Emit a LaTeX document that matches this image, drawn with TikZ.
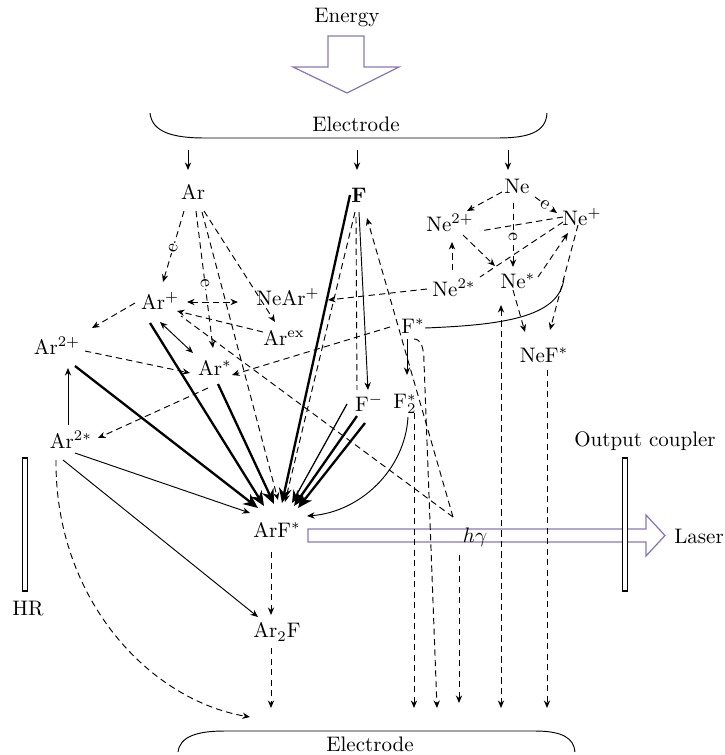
\documentclass[tikz,border=0pt]{standalone}
\usetikzlibrary{arrows.meta}
\definecolor{beam}{RGB}{136,120,186}
\begin{document}
\begin{tikzpicture}[x=0.476pt,y=-0.476pt,line width=0.45pt,
  lbl/.style={inner sep=0pt},
  tip/.style={-{Stealth[length=3.6pt,width=3pt]}},
  tips/.style={{Stealth[length=3.6pt,width=3pt]}-{Stealth[length=3.6pt,width=3pt]}},
  dsh/.style={dash pattern=on 3pt off 2pt},
  thk/.style={line width=1.1pt,-{Stealth[length=7pt,width=6pt]}},
  midtip/.style={line width=0.6pt,-{Stealth[length=6pt,width=5pt]}},
  elab/.style={sloped,fill=white,inner sep=0.4pt,font=\small},
  mirror/.style={draw=black,line width=0.5pt,fill=white},
  openarrow/.style={draw=beam,line width=0.6pt,fill=white}
]
\useasboundingbox (0,0) rectangle (725,755);

% energy arrow and electrodes
\draw[openarrow] (328,36) -- (364,36) -- (364,67) -- (399,67) -- (347,93) -- (293,67) -- (328,67) -- cycle;
\node[lbl] (energy) at (347,18) {Energy};
\draw (150,113) .. controls (152,133) and (175,138) .. (205,138) -- (497,138) .. controls (527,138) and (546,133) .. (547,113);
\node[lbl] (etop) at (356,124) {Electrode};
\draw (178,752) .. controls (180,736) and (198,731) .. (225,731) -- (535,731) .. controls (562,731) and (574,738) .. (575,752);
\node[lbl] (ebot) at (370,744) {Electrode};

% laser beam
\draw[openarrow] (308,529) -- (646,529) -- (646,515) -- (665,535.5) -- (646,556) -- (646,542) -- (308,542) -- cycle;

% nodes
\node[lbl] (Ar) at (193,192) {Ar};
\node[lbl] (F) at (359,195) {\textbf{F}};
\node[lbl] (Ne) at (517,186) {Ne};
\node[lbl] (Ne2p) at (450,223) {Ne$^{2+}$};
\node[lbl] (Nep) at (582,217) {Ne$^{+}$};
\node[lbl] (Nes) at (518,281) {Ne$^{*}$};
\node[lbl] (Ne2s) at (454,288) {Ne$^{2*}$};
\node[lbl] (NeFs) at (544,355) {NeF$^{*}$};
\node[lbl] (NeArp) at (288,297) {NeAr$^{+}$};
\node[lbl] (Arp) at (160,301) {Ar$^{+}$};
\node[lbl] (Arex) at (284,338) {Ar$^{\mathrm{ex}}$};
\node[lbl] (Ar2p) at (57,346) {Ar$^{2+}$};
\node[lbl] (Ars) at (215,368) {Ar$^{*}$};
\node[lbl] (Fs) at (413,326) {F$^{*}$};
\node[lbl] (Fm) at (369,403) {F$^{-}$};
\node[lbl] (F2s) at (405,404) {F$_2^{*}$};
\node[lbl] (Ar2s) at (71,440) {Ar$^{2*}$};
\node[lbl] (ArFs) at (277,530) {ArF$^{*}$};
\node[lbl] (Ar2F) at (277,632) {Ar$_2$F};
\node[lbl] (HR) at (28,609) {HR};
\node[lbl] (OC) at (645,441) {Output coupler};
\node[lbl] (Laser) at (699,536) {Laser};
\node[lbl] (hg) at (475,537) {$h\gamma$};

\coordinate (b0) at (271,708);
\coordinate (b1) at (414,708);
\coordinate (b2) at (437,708);
\coordinate (b3) at (459,703);
\coordinate (b4) at (501,708);
\coordinate (b5) at (547,708);
\coordinate (bc) at (250,717);
\coordinate (hgp) at (453,517);
\coordinate (t4) at (501,305);

% electrode feeds
\draw[tip] ([shift={(-5,-42)}]Ar.center) -- ([shift={(-5,-22)}]Ar.center);
\draw[tip] ([shift={(-2,-45)}]F.center) -- ([shift={(-2,-25)}]F.center);
\draw[tip] ([shift={(-9,-36)}]Ne.center) -- ([shift={(-9,-16)}]Ne.center);

% Ar cluster
\draw[dsh,tip] ([shift={(-9,19)}]Ar.center) -- node[elab,pos=0.52]{e} ([shift={(3,-19)}]Arp.center);
\draw[dsh,tip] ([shift={(3,19)}]Ar.center) -- node[elab,pos=0.53]{e} ([shift={(-2,-20)}]Ars.center);
\draw[dsh,tip] ([shift={(9,20)}]Ar.center) -- ([shift={(1,-30)}]ArFs.center);
\draw[dsh,tip] ([shift={(11,19)}]Ar.center) -- ([shift={(-9,-16)}]Arex.center);
\draw[dsh,tip] ([shift={(-25,2)}]Arp.center) -- ([shift={(35,-18)}]Ar2p.center);
\draw[dsh,tips] ([shift={(27,1)}]Arp.center) -- ([shift={(-50,5)}]NeArp.center);
\draw[tips] ([shift={(0,21)}]Arp.center) -- ([shift={(-22,-15)}]Ars.center);
\draw[dsh,tip] ([shift={(-21,-6)}]Arex.center) -- ([shift={(17,10)}]Arp.center);
\draw[dsh] (hgp) -- ([shift={(21,15)}]Arp.center);
\draw[dsh,tip] (hgp) -- ([shift={(8,23)}]F.center);
\draw[dsh,tip] ([shift={(28,5)}]Ar2p.center) -- ([shift={(-25,5)}]Ars.center);
\draw[tip] ([shift={(-3,-15)}]Ar2s.center) -- ([shift={(11,22)}]Ar2p.center);
\draw[dsh,tip] ([shift={(-7,20)}]Ars.center) -- ([shift={(27,-2)}]Ar2s.center);
\draw[dsh,tip] ([shift={(-23,1)}]Fs.center) -- ([shift={(17,7)}]Ars.center);

% into ArF*
\draw[thk] ([shift={(18,20)}]Ar2p.center) -- ([shift={(-19,-22)}]ArFs.center);
\draw[thk] ([shift={(-10,22)}]Arp.center) -- ([shift={(-13,-24)}]ArFs.center);
\draw[thk] ([shift={(3,16)}]Ars.center) -- ([shift={(-3,-26)}]ArFs.center);
\draw[thk] ([shift={(-9,0)}]F.center) -- ([shift={(5,-27)}]ArFs.center);
\draw[thk] ([shift={(-12,13)}]Fm.center) -- ([shift={(17,-24)}]ArFs.center);
\draw[thk] ([shift={(-4,20)}]Fm.center) -- ([shift={(21,-22)}]ArFs.center);
\draw[midtip] ([shift={(-22,1)}]Fm.center) -- ([shift={(15,-27)}]ArFs.center);
\draw[tip] ([shift={(4,13)}]Ar2s.center) -- ([shift={(-27,-17)}]ArFs.center);
\draw[dsh,tip] ([shift={(-4,17)}]F.center) -- ([shift={(8,-28)}]ArFs.center);

% F cluster
\draw[tip] ([shift={(0,17)}]F.center) -- ([shift={(-1,-13)}]Fm.center);
\draw[dsh] ([shift={(-3,22)}]F.center) -- ([shift={(-12,-13)}]Fm.center);
\draw[tip] ([shift={(-6,13)}]Fs.center) -- ([shift={(2,-29)}]F2s.center);
\draw[dsh,tip] ([shift={(1,13)}]Fs.center) .. controls (421,339) and (424,348) .. (424,362) -- (b2);
\draw ([shift={(12,2)}]Fs.center) .. controls (500,325) and (560,318) .. ([shift={(-18,61)}]Nep.center);
\draw[tip] ([shift={(3,13)}]F2s.center) .. controls (405,470) and (360,512) .. ([shift={(30,-14)}]ArFs.center);
\draw[dsh,tip] ([shift={(9,9)}]F2s.center) -- (b1);
\draw[dsh,tip] ([shift={(-16,18)}]hg.center) -- (b3);
\draw[dsh,tips] (t4) -- (b4);
\draw[dsh,tip] ([shift={(3,15)}]NeFs.center) -- (b5);

% lower part
\draw[dsh,tip] ([shift={(-6,22)}]ArFs.center) -- ([shift={(-6,-17)}]Ar2F.center);
\draw[dsh,tip] ([shift={(-6,16)}]Ar2F.center) -- (b0);
\draw[tip] ([shift={(-8,20)}]Ar2s.center) -- ([shift={(-19,-15)}]Ar2F.center);
\draw[dsh,tip] ([shift={(-15,20)}]Ar2s.center) .. controls (55,600) and (150,700) .. (bc);

% Ne cluster
\draw[dsh,tip] ([shift={(-15,6)}]Ne.center) -- ([shift={(17,-12)}]Ne2p.center);
\draw[dsh,tip] ([shift={(18,11)}]Ne.center) -- node[elab,pos=0.45]{e} ([shift={(-25,-4)}]Nep.center);
\draw[dsh,tip] ([shift={(-4,17)}]Ne.center) -- node[elab,pos=0.53]{e} ([shift={(-5,-14)}]Nes.center);
\draw[dsh] ([shift={(-19,0)}]Nep.center) -- ([shift={(30,8)}]Ne2p.center);
\draw[dsh] ([shift={(-19,5)}]Nep.center) -- ([shift={(26,-11)}]Ne2s.center);
\draw[dsh,tip] ([shift={(13,12)}]Ne2p.center) -- ([shift={(-23,-15)}]Nes.center);
\draw[dsh,tip] ([shift={(-2,-18)}]Ne2s.center) -- ([shift={(2,19)}]Ne2p.center);
\draw[dsh,tip] ([shift={(20,-4)}]Nes.center) -- ([shift={(-14,16)}]Nep.center);
\draw[dsh,tip] ([shift={(-4,8)}]Nep.center) -- ([shift={(6,-25)}]NeFs.center);
\draw[dsh,tip] ([shift={(-5,9)}]Nes.center) -- ([shift={(-19,-23)}]NeFs.center);
\draw[dsh,tip] ([shift={(-27,1)}]Ne2s.center) -- ([shift={(40,3)}]NeArp.center);

% mirrors
\draw[mirror] (22.5,458) rectangle (27.5,591);
\draw[mirror] (622.5,458) rectangle (627.5,591);
\end{tikzpicture}
\end{document}
